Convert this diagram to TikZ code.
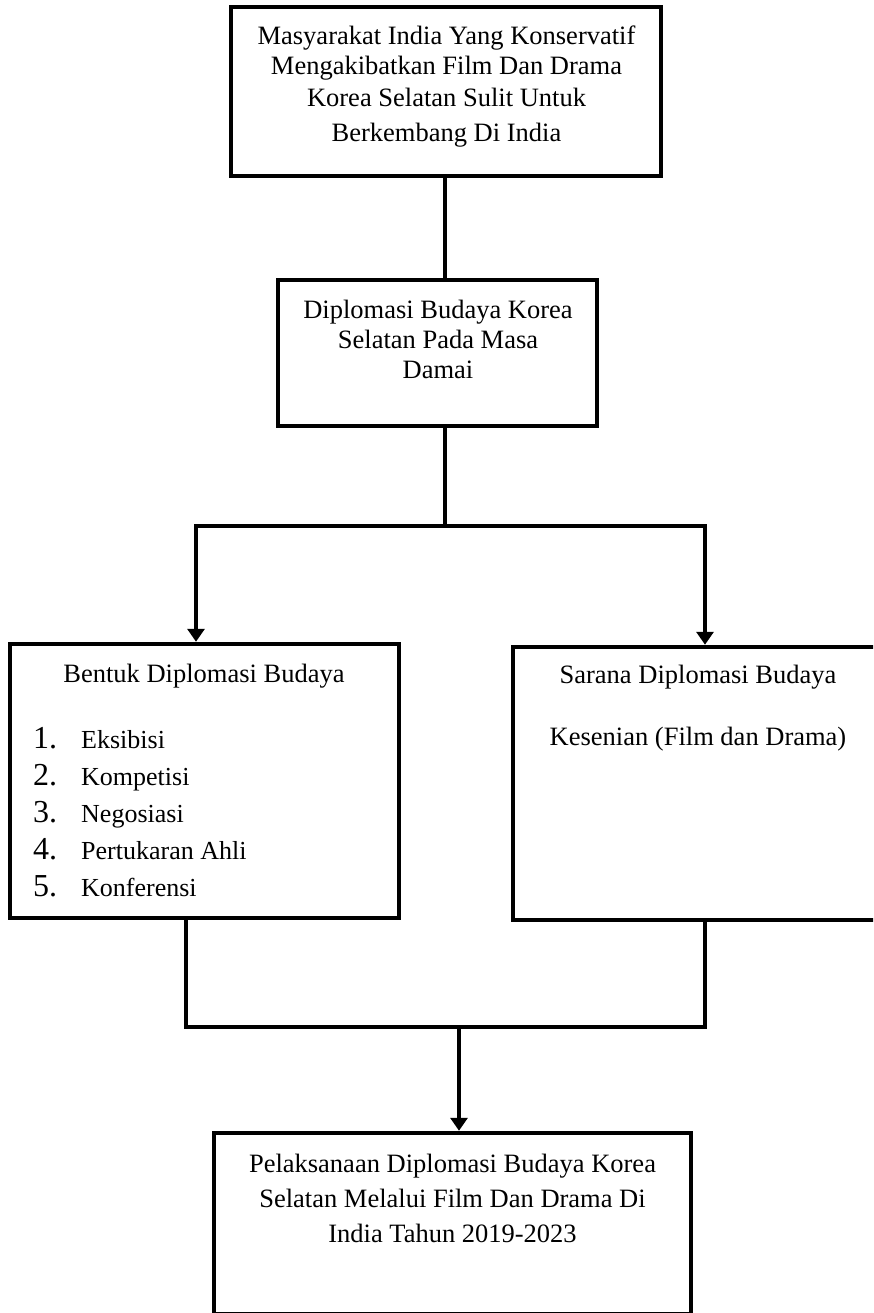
\documentclass[tikz,border=0pt]{standalone}
\usepackage{fontspec}
\setmainfont{Liberation Serif}
\usetikzlibrary{arrows.meta}
\begin{document}
\begin{tikzpicture}[x=1pt,y=-1pt,
  boxx/.style={draw=black,line width=4.5pt,rectangle,inner sep=0pt},
  txt/.style={font=\fontsize{26.5}{31}\selectfont,anchor=base,inner sep=0pt},
  num/.style={font=\fontsize{32}{36}\selectfont,anchor=base west,inner sep=0pt},
  itm/.style={font=\fontsize{26}{31}\selectfont,anchor=base west,inner sep=0pt},
  conn/.style={line width=4.5pt,line join=miter,draw=black},
  tipend/.style={-{Triangle[width=17pt,length=13pt]}},
  tipboth/.style={{Triangle[width=17pt,length=13pt]}-{Triangle[width=17pt,length=13pt]}}]
\clip (0,0) rectangle (873,1313);
\fill[white] (0,0) rectangle (873,1313);

% boxes
\node[boxx,minimum width=430pt,minimum height=169pt] (top) at (446,91.5) {};
\node[boxx,minimum width=319pt,minimum height=146pt] (mid) at (437.5,353) {};
\node[boxx,minimum width=389pt,minimum height=274pt] (left) at (204.5,781) {};
\node[boxx,minimum width=372pt,minimum height=273pt] (right) at (699,783.5) {};
\node[boxx,minimum width=477pt,minimum height=181pt] (bottom) at (452.5,1223.5) {};

% texts
\node[txt] (t1) at (446.5,45) {Masyarakat India Yang Konservatif};
\node[txt] (t2) at (446.5,75) {Mengakibatkan Film Dan Drama};
\node[txt] (t3) at (446.5,107) {Korea Selatan Sulit Untuk};
\node[txt] (t4) at (446.5,142) {Berkembang Di India};

\node[txt] (m1) at (438,318) {Diplomasi Budaya Korea};
\node[txt] (m2) at (438,348) {Selatan Pada Masa};
\node[txt] (m3) at (438,378) {Damai};

\node[txt] (l0) at (204,682) {Bentuk Diplomasi Budaya};
\node[num] (n1) at (33,748) {1.};
\node[itm] (i1) at (81,748) {Eksibisi};
\node[num] (n2) at (33,785) {2.};
\node[itm] (i2) at (81,785) {Kompetisi};
\node[num] (n3) at (33,822) {3.};
\node[itm] (i3) at (81,822) {Negosiasi};
\node[num] (n4) at (33,859) {4.};
\node[itm] (i4) at (81,859) {Pertukaran Ahli};
\node[num] (n5) at (33,896) {5.};
\node[itm] (i5) at (81,896) {Konferensi};

\node[txt] (r1) at (698,683) {Sarana Diplomasi Budaya};
\node[txt] (r2) at (698,745) {Kesenian (Film dan Drama)};

\node[txt] (b1) at (452.5,1172) {Pelaksanaan Diplomasi Budaya Korea};
\node[txt] (b2) at (452.5,1207) {Selatan Melalui Film Dan Drama Di};
\node[txt] (b3) at (452.5,1242) {India Tahun 2019-2023};

% connectors
\coordinate (c1) at (445,526);
\coordinate (jl) at (196,526);
\coordinate (jr) at (705,526);
\coordinate (bl) at (186,1027);
\coordinate (br) at (705,1027);
\coordinate (bm) at (459,1027);

\draw[conn] (c1 |- top.south) -- (c1 |- mid.north);
\draw[conn] (c1 |- mid.south) -- (c1);
\draw[conn,tipboth] (jl |- left.north) -- (jl) -- (jr) -- (jr |- right.north);
\draw[conn] (bl |- left.south) -- (bl) -- (br) -- (br |- right.south);
\draw[conn,tipend] (bm) -- (bm |- bottom.north);
\end{tikzpicture}
\end{document}
